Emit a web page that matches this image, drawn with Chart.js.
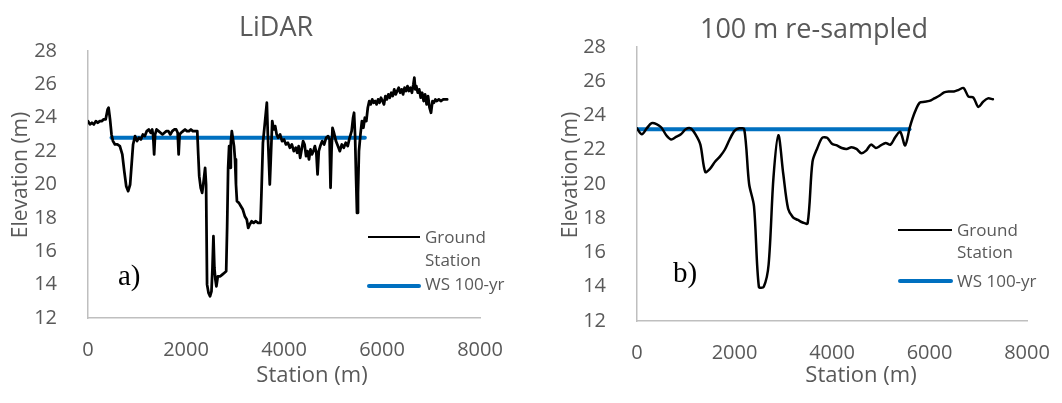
<!DOCTYPE html>
<html>
<head>
<meta charset="utf-8">
<title>Elevation profiles</title>
<script src="https://cdn.jsdelivr.net/npm/chart.js@4.4.1/dist/chart.umd.min.js"></script>
<style>
  html, body { margin: 0; padding: 0; background: #fff; overflow: hidden; }
  #wrap { position: relative; width: 1062px; height: 403px; font-family: 'Open Sans', sans-serif; color: #595959; }
  .panel { position: absolute; top: 0; width: 531px; height: 403px; }
  .txt { position: absolute; white-space: nowrap; text-align: center; }
  .ttl { font-size: 27px; line-height: 32px; width: 300px; }
  .xt { font-size: 22px; line-height: 26px; width: 200px; }
  .yt { font-size: 21px; line-height: 26px; width: 200px; transform: rotate(-90deg); }
  .lg { position: absolute; font-size: 17px; line-height: 22.5px; white-space: nowrap; }
  .sw { position: absolute; }
</style>
</head>
<body>
<div id="wrap">
  <div class="panel" style="left:0"><canvas id="chartLidar" width="531" height="403"></canvas></div>
  <div class="panel" style="left:531px"><canvas id="chartResampled" width="531" height="403"></canvas></div>

  <!-- titulos -->
  <div class="txt ttl" style="left:126px; top:10px">LiDAR</div>
  <div class="txt ttl" style="left:664px; top:12px">100 m re-sampled</div>
  <div class="txt xt" style="left:212px; top:360px">Station (m)</div>
  <div class="txt xt" style="left:761px; top:360px">Station (m)</div>
  <div class="txt yt" style="left:-81px; top:162px">Elevation (m)</div>
  <div class="txt yt" style="left:469px; top:162px">Elevation (m)</div>

  <!-- leyendas -->
  <div class="sw" style="left:368px; top:235.5px; width:52px; height:2.5px; background:#000"></div>
  <div class="lg" style="left:425px; top:226px">Ground<br>Station</div>
  <div class="sw" style="left:367px; top:283.7px; width:54px; height:4px; background:#0070C0; border-radius:2px"></div>
  <div class="lg" style="left:425px; top:273px">WS 100-yr</div>

  <div class="sw" style="left:898px; top:228.8px; width:54px; height:2.5px; background:#000"></div>
  <div class="lg" style="left:957px; top:218.5px">Ground<br>Station</div>
  <div class="sw" style="left:898px; top:279px; width:55px; height:4px; background:#0070C0; border-radius:2px"></div>
  <div class="lg" style="left:957px; top:269.5px">WS 100-yr</div>
</div>

<script>
// DATOS
const seriesNames = ['Ground Station', 'WS 100-yr'];
const panelTitles = ['LiDAR', '100 m re-sampled'];
const panelTags = ['a)', 'b)'];

const xMin = 0, xMax = 8000, xStep = 2000;
const yMin = 12, yMax = 28, yStep = 2;

// perfil LiDAR (estación m, elevación m)
const lidarStation = [
  0, 40, 80, 120, 160, 200, 240, 280, 320, 360, 400, 420, 450, 480, 510, 550, 600, 650, 700, 740,
  780, 820, 860, 890, 920, 960, 1000, 1040, 1080, 1120, 1160, 1200, 1240, 1280, 1310, 1330, 1350, 1370, 1400, 1440,
  1480, 1520, 1560, 1600, 1640, 1680, 1720, 1760, 1800, 1830, 1850, 1870, 1900, 1940, 1980, 2020, 2060, 2100, 2140, 2180,
  2230, 2250, 2270, 2300, 2330, 2360, 2390, 2410, 2430, 2460, 2490, 2520, 2540, 2560, 2580, 2600, 2620, 2650, 2700, 2740,
  2780, 2820, 2840, 2860, 2880, 2900, 2915, 2935, 2955, 2980, 3000, 3020, 3040, 3080, 3120, 3160, 3200, 3240, 3270, 3300,
  3340, 3380, 3420, 3470, 3520, 3540, 3570, 3600, 3630, 3650, 3670, 3690, 3710, 3730, 3760, 3790, 3820, 3850, 3880, 3920,
  3960, 4000, 4040, 4080, 4120, 4160, 4200, 4240, 4270, 4300, 4330, 4360, 4390, 4420, 4450, 4480, 4510, 4540, 4570, 4600,
  4630, 4660, 4685, 4710, 4740, 4780, 4820, 4860, 4900, 4930, 4950, 4970, 4990, 5020, 5060, 5100, 5140, 5180, 5220, 5260,
  5300, 5340, 5380, 5410, 5430, 5450, 5470, 5490, 5510, 5530, 5560, 5590, 5620, 5650, 5680, 5710, 5740, 5770, 5800, 5830,
  5860, 5890, 5920, 5950, 5980, 6010, 6040, 6070, 6100, 6130, 6160, 6190, 6220, 6250, 6280, 6310, 6340, 6370, 6400, 6430,
  6460, 6490, 6520, 6550, 6580, 6610, 6640, 6660, 6680, 6700, 6730, 6760, 6790, 6820, 6850, 6880, 6910, 6940, 6970, 7000,
  7030, 7060, 7090, 7120, 7160, 7200, 7250, 7300, 7330
];
const lidarElev = [
  23.8, 23.6, 23.7, 23.6, 23.8, 23.7, 23.8, 23.8, 23.9, 23.9, 24.5, 24.6, 23.9, 23.0, 22.6, 22.4, 22.4, 22.3, 21.8, 20.8,
  19.9, 19.6, 20.0, 21.2, 22.4, 22.9, 22.6, 22.8, 22.7, 23.0, 22.9, 23.2, 23.3, 23.1, 23.3, 22.9, 21.8, 23.0, 23.3, 23.2,
  23.1, 23.0, 23.1, 23.2, 23.2, 23.0, 23.2, 23.3, 23.3, 23.1, 21.8, 23.0, 23.1, 23.2, 23.3, 23.2, 23.2, 23.3, 23.2, 23.2,
  23.2, 21.8, 20.5, 19.8, 19.5, 20.2, 21.0, 20.0, 14.0, 13.5, 13.3, 13.6, 15.0, 16.9, 15.0, 14.3, 13.9, 14.5, 14.5, 14.6,
  14.7, 14.8, 17.5, 21.0, 22.3, 21.0, 22.5, 23.2, 22.8, 22.3, 21.5, 20.0, 19.0, 18.9, 18.7, 18.5, 18.1, 17.9, 17.4, 17.6,
  17.8, 17.7, 17.8, 17.7, 17.7, 19.5, 22.5, 23.4, 24.3, 24.9, 23.0, 21.5, 20.0, 21.5, 23.8, 23.3, 23.5, 23.0, 22.8, 23.0,
  22.6, 22.7, 22.4, 22.5, 22.2, 22.4, 22.0, 22.2, 21.9, 22.3, 21.6, 22.1, 22.6, 22.4, 21.7, 22.0, 21.5, 22.1, 21.8, 22.0,
  22.3, 21.9, 20.6, 22.0, 22.3, 22.6, 22.4, 22.8, 22.9, 22.7, 19.8, 22.0, 23.4, 23.1, 22.6, 22.3, 22.0, 22.4, 22.2, 22.5,
  22.3, 22.8, 23.2, 24.0, 24.3, 23.0, 20.5, 18.3, 19.5, 22.0, 23.0, 23.8, 23.4, 24.0, 23.8, 24.6, 25.0, 24.8, 25.1, 24.9,
  25.0, 24.8, 25.1, 24.9, 25.2, 25.0, 24.8, 25.3, 25.1, 25.4, 25.2, 25.5, 25.3, 25.7, 25.4, 25.6, 25.8, 25.5, 25.7, 25.4,
  25.8, 25.6, 25.9, 25.6, 25.8, 25.5, 26.0, 26.4, 25.7, 25.9, 25.5, 25.7, 25.2, 25.5, 25.0, 25.4, 24.8, 25.3, 24.6, 24.3,
  25.0, 24.9, 25.1, 25.0, 25.1, 25.0, 25.1, 25.1, 25.1
];
const wsLidarStation = [480, 5650];
const wsLidarElev = [22.8, 22.8];

// perfil re-muestreado cada 100 m
const resStation = [
  0, 100, 200, 300, 400, 500, 600, 700, 800, 900, 1000, 1100, 1200, 1300, 1400, 1500, 1600, 1700, 1800, 1900,
  2000, 2100, 2200, 2300, 2400, 2500, 2600, 2700, 2800, 2900, 3000, 3100, 3200, 3300, 3400, 3500, 3600, 3700, 3800, 3900,
  4000, 4100, 4200, 4300, 4400, 4500, 4600, 4700, 4800, 4900, 5000, 5100, 5200, 5300, 5400, 5500, 5600, 5700, 5800, 5900,
  6000, 6100, 6200, 6300, 6400, 6500, 6600, 6700, 6800, 6900, 7000, 7100, 7200, 7300
];
const resElev = [
  23.25, 22.9, 23.25, 23.55, 23.5, 23.3, 22.85, 22.6, 22.75, 22.9, 23.2, 23.25, 22.9, 22.3, 20.7, 20.9, 21.3, 21.6, 22.0, 22.6,
  23.1, 23.25, 23.2, 20.0, 18.7, 14.0, 14.0, 15.3, 20.4, 22.85, 20.6, 18.55, 18.05, 17.9, 17.75, 17.7, 21.3, 22.1, 22.7, 22.7,
  22.35, 22.25, 22.1, 22.05, 22.15, 22.05, 21.8, 21.95, 22.3, 22.1, 22.25, 22.4, 22.3, 22.75, 23.05, 22.25, 23.35, 24.2, 24.75, 24.8,
  24.85, 25.0, 25.15, 25.35, 25.4, 25.4, 25.5, 25.6, 25.1, 25.05, 24.5, 24.8, 25.0, 24.95
];
const wsResStation = [20, 5590];
const wsResElev = [23.2, 23.2];

// ESTILO
const TEXT = '#595959';
const AXIS = '#bfbfbf';
const BLUE = '#0070C0';
const FONT = "'Open Sans', sans-serif";

function toPoints(xs, ys) {
  return xs.map((x, i) => ({ x: x, y: ys[i] }));
}

// etiqueta a) / b) dentro del área
const panelTag = {
  id: 'panelTag',
  afterDatasetsDraw(chart, args, opts) {
    const { ctx, scales } = chart;
    ctx.save();
    ctx.font = "29px 'Liberation Serif', serif";
    ctx.fillStyle = '#000';
    ctx.textBaseline = 'alphabetic';
    ctx.textAlign = 'left';
    ctx.fillText(opts.text, scales.x.getPixelForValue(opts.x), scales.y.getPixelForValue(opts.y));
    ctx.restore();
  }
};

function buildChart(id, cfg) {
  return new Chart(document.getElementById(id), {
    type: 'line',
    data: {
      datasets: [
        {
          label: seriesNames[0],
          data: toPoints(cfg.gx, cfg.gy),
          borderColor: '#000',
          borderWidth: cfg.groundWidth,
          tension: cfg.tension,
          pointRadius: 0,
          borderJoinStyle: 'round',
          borderCapStyle: 'round'
        },
        {
          label: seriesNames[1],
          data: toPoints(cfg.wx, cfg.wy),
          borderColor: BLUE,
          borderWidth: 4,
          pointRadius: 0,
          borderCapStyle: 'round'
        }
      ]
    },
    options: {
      responsive: false,
      animation: false,
      devicePixelRatio: 1,
      layout: { padding: { top: cfg.top, right: cfg.right, bottom: 0, left: 0 } },
      plugins: {
        legend: { display: false },
        tooltip: { enabled: false },
        title: { display: false },
        panelTag: { text: cfg.tag, x: cfg.tagX, y: cfg.tagY }
      },
      scales: {
        x: {
          type: 'linear',
          min: xMin, max: xMax,
          grid: { display: false },
          border: { display: true, color: AXIS, width: 1.5 },
          ticks: {
            stepSize: xStep, padding: 12, color: TEXT, font: { family: FONT, size: 20 },
            callback: v => String(v)
          },
          afterFit: s => { s.height = cfg.xHeight; }
        },
        y: {
          min: yMin, max: yMax,
          grid: { display: false },
          border: { display: true, color: AXIS, width: 1.5 },
          ticks: { stepSize: yStep, padding: 23, color: TEXT, font: { family: FONT, size: 20 } },
          afterFit: s => { s.width = cfg.yWidth; }
        }
      }
    },
    plugins: [panelTag]
  });
}

buildChart('chartLidar', {
  gx: lidarStation, gy: lidarElev, wx: wsLidarStation, wy: wsLidarElev,
  groundWidth: 2.75, tension: 0,
  top: 51, right: 51, xHeight: 85, yWidth: 88,
  tag: panelTags[0], tagX: 612, tagY: 14.0
});

buildChart('chartResampled', {
  gx: resStation, gy: resElev, wx: wsResStation, wy: wsResElev,
  groundWidth: 2.5, tension: 0.3,
  top: 47, right: 35, xHeight: 82, yWidth: 106,
  tag: panelTags[1], tagX: 738, tagY: 14.3
});
</script>
</body>
</html>
